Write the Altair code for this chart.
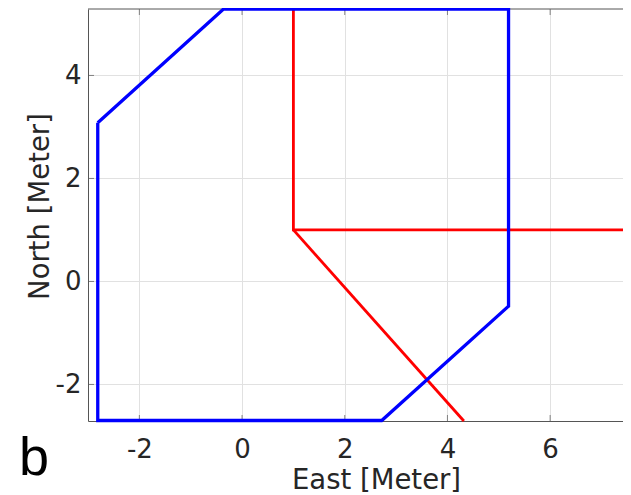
import altair as alt
import pandas as pd

# Blue polygon (closed path)
blue_x = [-2.81, -0.36, 5.19, 5.19, 2.72, -2.81, -2.81]
blue_y = [3.08, 5.29, 5.29, -0.48, -2.70, -2.70, 3.08]

# Red path: two segments
red_seg = [0, 0, 0, 1, 1]
red_x = [1.0, 1.0, 7.42, 1.0, 4.32]
red_y = [5.29, 1.0, 1.0, 1.0, -2.71]

x_ticks = [-2, 0, 2, 4, 6]
y_ticks = [-2, 0, 2, 4]
x_domain = [-3.0, 7.419]
y_domain = [-2.71, 5.29]

W, H = 535, 412
FONT = "DejaVu Sans"
TXT = "#262626"
AX = "#555555"

blue = pd.DataFrame({"x": blue_x, "y": blue_y, "i": list(range(len(blue_x)))})
red = pd.DataFrame({"x": red_x, "y": red_y, "seg": red_seg, "i": list(range(len(red_x)))})
xt = pd.DataFrame({"x": x_ticks})
yt = pd.DataFrame({"y": y_ticks})
lab = pd.DataFrame({"t": ["b"]})
top = pd.DataFrame({"x": [x_domain[0]], "x2": [x_domain[1]]})

xs = alt.Scale(domain=x_domain, nice=False, zero=False)
ys = alt.Scale(domain=y_domain, nice=False, zero=False)

x_axis = alt.Axis(
    values=x_ticks, grid=True, gridColor="#e1e1e1", gridWidth=1,
    domain=True, domainColor=AX, domainWidth=1,
    ticks=False, labelFlush=False, labelOverlap=False,
    labelExpr="toString(datum.value)",
    labelFont=FONT, labelFontSize=26, labelColor=TXT,
    labelPadding=36, labelBaseline="alphabetic",
    title="East [Meter]", titleFont=FONT, titleFontSize=27.5,
    titleFontWeight="normal", titleColor=TXT,
    titleX=288, titleY=67, titleBaseline="alphabetic", titleAlign="center",
)
y_axis = alt.Axis(
    values=y_ticks, grid=True, gridColor="#e1e1e1", gridWidth=1,
    domain=True, domainColor=AX, domainWidth=1,
    ticks=False, labelFlush=False, labelOverlap=False,
    labelExpr="toString(datum.value)",
    labelFont=FONT, labelFontSize=26, labelColor=TXT,
    labelPadding=7, labelBaseline="middle",
    title="North [Meter]", titleFont=FONT, titleFontSize=27.5,
    titleFontWeight="normal", titleColor=TXT,
    titleX=-40, titleY=197, titleAngle=270,
    titleBaseline="alphabetic", titleAlign="center",
)

X = alt.X("x:Q", scale=xs, axis=x_axis)
Y = alt.Y("y:Q", scale=ys, axis=y_axis)

top_line = alt.Chart(top).mark_rule(color=AX, strokeWidth=1).encode(
    x=X, x2="x2:Q", y=alt.value(0)
)

red_line = alt.Chart(red).mark_line(
    color="#ff0000", strokeWidth=2.8, clip=False, strokeJoin="miter"
).encode(x=X, y=Y, detail="seg:N", order="i:Q")

blue_line = alt.Chart(blue).mark_line(
    color="#0000ff", strokeWidth=3.3, clip=False, strokeJoin="miter"
).encode(x=X, y=Y, order="i:Q")

tick_bottom = alt.Chart(xt).mark_tick(
    orient="vertical", size=6, thickness=1, color=AX, yOffset=-3
).encode(x=X, y=alt.value(H))
tick_top = alt.Chart(xt).mark_tick(
    orient="vertical", size=6, thickness=1, color=AX, yOffset=3
).encode(x=X, y=alt.value(0))
tick_left = alt.Chart(yt).mark_tick(
    orient="horizontal", size=6, thickness=1, color=AX, xOffset=3
).encode(y=Y, x=alt.value(0))

letter = alt.Chart(lab).mark_text(
    font="Liberation Sans", fontSize=54, color="#000000",
    align="left", baseline="alphabetic", clip=False
).encode(text="t:N", x=alt.value(-69), y=alt.value(466))

chart = alt.layer(
    top_line, tick_bottom, tick_top, tick_left, red_line, blue_line, letter
).properties(
    width=W, height=H,
    padding={"left": 80, "top": 1, "right": 0, "bottom": 72},
    autosize=alt.AutoSizeParams(type="none"),
    background="white",
).configure_view(stroke=None)

chart.save("out.html", embed_options={"renderer": "svg", "actions": False})
